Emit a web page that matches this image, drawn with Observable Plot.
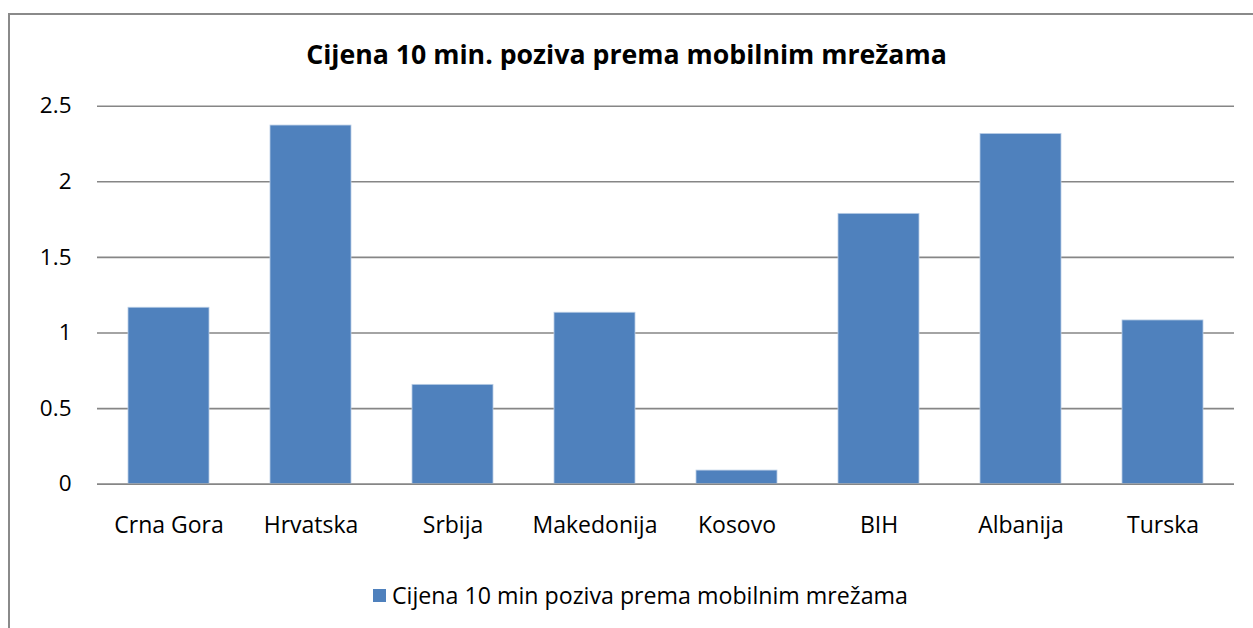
<!DOCTYPE html>
<html>
<head>
<meta charset="utf-8">
<script src="https://cdn.jsdelivr.net/npm/d3@7"></script>
<script src="https://cdn.jsdelivr.net/npm/@observablehq/plot@0.6"></script>
<style>
  html, body { margin: 0; padding: 0; background: #fff; overflow: hidden; width: 1253px; height: 628px; }
  #wrap { position: relative; width: 1253px; height: 628px; }
  #frame { position: absolute; left: 8px; top: 13px; width: 1400px; height: 700px; border-left: 2px solid #8a8a8a; border-top: 2px solid #8a8a8a; pointer-events: none; z-index: 3; }
  #title { position: absolute; left: 0; width: 1253px; top: 37px; line-height: 34px; text-align: center; font-family: "Open Sans", sans-serif; font-weight: bold; font-size: 26.7px; color: #000; z-index: 2; }
  #chart { position: absolute; left: 0; top: 0; z-index: 1; }
  #legend { position: absolute; left: 373px; top: 580px; height: 30px; display: flex; align-items: center; font-family: "Open Sans", sans-serif; font-size: 23.2px; color: #000; z-index: 2; }
  #legend .sw { width: 13px; height: 13px; margin-right: 6px; }
</style>
</head>
<body>
<div id="wrap">
  <div id="frame"></div>
  <div id="title"></div>
  <div id="chart"></div>
  <div id="legend"></div>
</div>
<script>
const titleText = "Cijena 10 min. poziva prema mobilnim mrežama";
const seriesName = "Cijena 10 min poziva prema mobilnim mrežama";
const categories = ["Crna Gora", "Hrvatska", "Srbija", "Makedonija", "Kosovo", "BIH", "Albanija", "Turska"];
const values = [1.167, 2.372, 0.657, 1.134, 0.09, 1.788, 2.316, 1.083];
const yTicks = [0, 0.5, 1, 1.5, 2, 2.5];
const barColor = "#4F81BD";

const data = categories.map((c, i) => ({ category: c, value: values[i] }));

document.getElementById("title").textContent = titleText;

const H = 560;
const chart = Plot.plot({
  width: 1253,
  height: H,
  marginLeft: 97,
  marginRight: 19,
  marginTop: 105.7,
  marginBottom: H - 483.7,
  style: { fontFamily: "'Open Sans', sans-serif", fontSize: "22px", color: "#000", background: "transparent", overflow: "visible" },
  x: { domain: categories, paddingInner: 0.4286, paddingOuter: 0.2143, label: null, axis: null },
  y: { domain: [0, 2.5], label: null, axis: null },
  marks: [
    Plot.ruleY(yTicks, { y: d => d, stroke: "#868686", strokeWidth: 1.6 }),
    Plot.barY(data, { x: "category", y: "value", fill: barColor, stroke: "#b9cde5", strokeWidth: 0.8 }),
    Plot.ruleY([0], { stroke: "#868686", strokeWidth: 1.6 }),
    Plot.axisY({ ticks: yTicks, tickSize: 0, tickPadding: 26, tickFormat: d => String(d), label: null, fontSize: 22.5 }),
    Plot.axisX({ tickSize: 0, tickPadding: 32, label: null, fontSize: 23 })
  ]
});
document.getElementById("chart").appendChild(chart);

const legend = document.getElementById("legend");
const sw = document.createElement("div");
sw.className = "sw";
sw.style.background = barColor;
legend.appendChild(sw);
const lt = document.createElement("span");
lt.textContent = seriesName;
legend.appendChild(lt);
</script>
</body>
</html>
